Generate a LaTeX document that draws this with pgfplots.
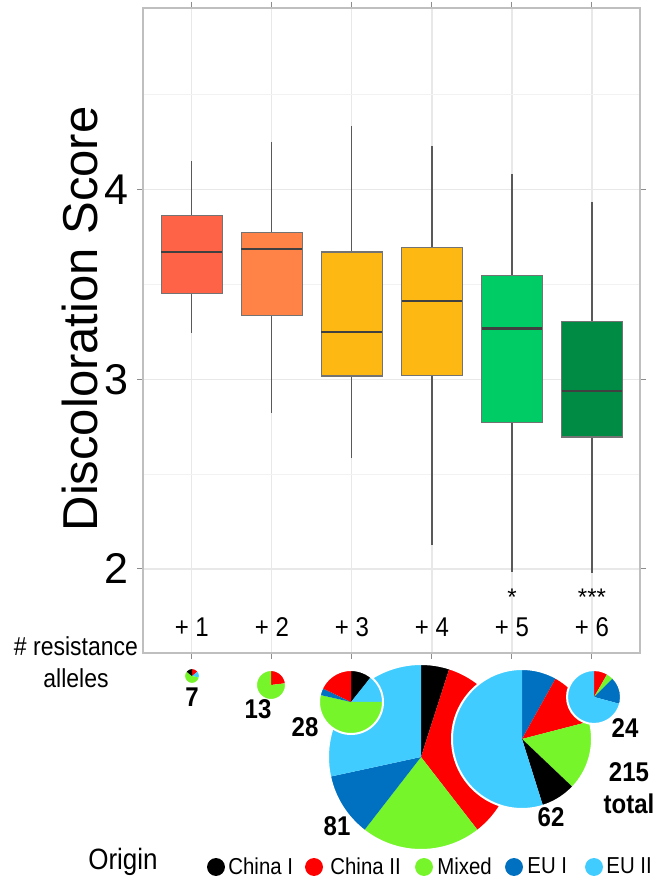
\documentclass[border=0pt]{standalone}
\usepackage{fontspec}
\setmainfont{Liberation Sans}
\usepackage{pgfplots}
\pgfplotsset{compat=1.18}
\usepgfplotslibrary{statistics}

\definecolor{bA}{HTML}{FF6347}
\definecolor{bB}{HTML}{FF8247}
\definecolor{bC}{HTML}{FDB813}
\definecolor{bE}{HTML}{00CC66}
\definecolor{bF}{HTML}{008B45}
\definecolor{chinaI}{HTML}{000000}
\definecolor{chinaII}{HTML}{FF0000}
\definecolor{mixed}{HTML}{76F52A}
\definecolor{euI}{HTML}{0070C0}
\definecolor{euII}{HTML}{40CCFF}

% pie: centre coordinate name, radius (pixels), total, list count/colour (clockwise from top)
\newcommand\drawpie[4]{%
  \gdef\piecum{0}%
  \pgfmathsetlengthmacro\pier{#2*0.5pt}%
  \foreach \n/\col in {#4}{%
    \pgfmathsetmacro\aone{90-\piecum/#3*360}%
    \pgfmathsetmacro\atwo{90-(\piecum+\n)/#3*360}%
    \fill[\col] (#1) -- ++(\aone:\pier) arc[start angle=\aone,end angle=\atwo,radius=\pier] -- cycle;
    \pgfmathsetmacro\newcum{\piecum+\n}%
    \xdef\piecum{\newcum}%
  }%
  \draw[white, line width=1pt] (#1) circle[radius=\pier];
}
\tikzset{tall/.style={yscale=1.13, transform shape}}

\begin{document}
\begin{tikzpicture}
\useasboundingbox (0,0) rectangle (327.5pt,438.5pt);
\begin{axis}[
  at={(71.5pt,112pt)}, anchor=south west,
  scale only axis, width=248.5pt, height=322.5pt,
  xmin=0.39, xmax=6.6, ymin=1.557, ymax=4.957,
  xtick={1,2,3,4,5,6}, xticklabels={},
  ytick={2,3,4}, minor ytick={2.5,3.5,4.5},
  grid=both,
  major grid style={draw=black!9, line width=0.6pt},
  minor grid style={draw=black!5, line width=0.6pt},
  axis line style={draw=black!25, line width=0.6pt},
  tick align=outside, major tick length=3pt, minor tick length=0pt,
  tick style={draw=black!45, line width=0.5pt},
  /pgf/number format/assume math mode=true,
  yticklabel style={font=\fontsize{21.5}{21.5}\selectfont, xshift=-1pt},
  ylabel={Discoloration Score},
  ylabel style={at={(axis description cs:-0.127,0.518)}, anchor=center, font=\fontsize{24.5}{24.5}\selectfont},
  boxplot/draw direction=y,
  boxplot/every median/.style={draw=black!75, line width=1.1pt},
  boxplot/every whisker/.style={draw=black!65, line width=0.6pt},
  boxplot/every box/.style={draw=black!55, line width=0.6pt},
]
\addplot[boxplot prepared={draw position=1, lower whisker=3.246, lower quartile=3.45, median=3.671, upper quartile=3.864, upper whisker=4.149, box extend=0.76, whisker extend=0}, fill=bA] coordinates {};
\addplot[boxplot prepared={draw position=2, lower whisker=2.823, lower quartile=3.335, median=3.686, upper quartile=3.773, upper whisker=4.249, box extend=0.76, whisker extend=0}, fill=bB] coordinates {};
\addplot[boxplot prepared={draw position=3, lower whisker=2.587, lower quartile=3.017, median=3.250, upper quartile=3.671, upper whisker=4.334, box extend=0.76, whisker extend=0}, fill=bC] coordinates {};
\addplot[boxplot prepared={draw position=4, lower whisker=2.125, lower quartile=3.019, median=3.413, upper quartile=3.695, upper whisker=4.231, box extend=0.76, whisker extend=0}, fill=bC] coordinates {};
\addplot[boxplot prepared={draw position=5, lower whisker=1.984, lower quartile=2.774, median=3.268, upper quartile=3.546, upper whisker=4.082, box extend=0.76, whisker extend=0}, fill=bE] coordinates {};
\addplot[boxplot prepared={draw position=6, lower whisker=1.980, lower quartile=2.696, median=2.939, upper quartile=3.304, upper whisker=3.935, box extend=0.76, whisker extend=0}, fill=bF] coordinates {};
\node[tall, anchor=base, font=\fontsize{12}{12}\selectfont] at (axis cs:1,1.642) {+ 1};
\node[tall, anchor=base, font=\fontsize{12}{12}\selectfont] at (axis cs:2,1.642) {+ 2};
\node[tall, anchor=base, font=\fontsize{12}{12}\selectfont] at (axis cs:3,1.642) {+ 3};
\node[tall, anchor=base, font=\fontsize{12}{12}\selectfont] at (axis cs:4,1.642) {+ 4};
\node[tall, anchor=base, font=\fontsize{12}{12}\selectfont] at (axis cs:5,1.642) {+ 5};
\node[tall, anchor=base, font=\fontsize{12}{12}\selectfont] at (axis cs:6,1.642) {+ 6};
\node[anchor=base, font=\fontsize{12}{12}\selectfont] at (axis cs:5,1.81) {*};
\node[anchor=base, font=\fontsize{12}{12}\selectfont] at (axis cs:6,1.81) {***};
\end{axis}

\begin{axis}[
  at={(0pt,0pt)}, anchor=south west,
  scale only axis, width=327.5pt, height=438.5pt,
  xmin=0, xmax=655, ymin=0, ymax=877,
  hide axis, clip=false,
]
% pixel coordinates: x from left, y = 877 - (pixel row)
\coordinate (p81) at (axis cs:421,120);
\coordinate (p62) at (axis cs:522,138);
\coordinate (p28) at (axis cs:351,175);
\coordinate (p24) at (axis cs:594,180);
\coordinate (p13) at (axis cs:271,192);
\coordinate (p7)  at (axis cs:192,201);
\addplot[only marks, mark=*, mark size=4.25pt, color=chinaI] coordinates {(216,10)};
\addplot[only marks, mark=*, mark size=4.25pt, color=chinaII] coordinates {(314,10)};
\addplot[only marks, mark=*, mark size=4.25pt, color=mixed] coordinates {(424,10)};
\addplot[only marks, mark=*, mark size=4.25pt, color=euI] coordinates {(514,10)};
\addplot[only marks, mark=*, mark size=4.25pt, color=euII] coordinates {(594,10)};
\node[tall, anchor=west, font=\fontsize{10.2}{10}\selectfont, inner sep=0pt] at (axis cs:228,11) {China I};
\node[tall, anchor=west, font=\fontsize{10.2}{10}\selectfont, inner sep=0pt] at (axis cs:330,11) {China II};
\node[tall, anchor=west, font=\fontsize{10.2}{10}\selectfont, inner sep=0pt] at (axis cs:437,11) {Mixed};
\node[tall, anchor=west, font=\fontsize{10.2}{10}\selectfont, inner sep=0pt] at (axis cs:527,11) {EU I};
\node[tall, anchor=west, font=\fontsize{10.2}{10}\selectfont, inner sep=0pt] at (axis cs:606,11) {EU II};
\node[tall, font=\fontsize{11.5}{14}\selectfont, align=center] at (axis cs:76,215) {\# resistance\\alleles};
\node[tall, font=\fontsize{13}{13}\selectfont] at (axis cs:123,15) {Origin};
\coordinate (l7) at (axis cs:192,180);
\coordinate (l13) at (axis cs:258,168);
\coordinate (l28) at (axis cs:305,150);
\coordinate (l81) at (axis cs:337,51);
\coordinate (l62) at (axis cs:551,60);
\coordinate (l24) at (axis cs:625,149);
\coordinate (l215) at (axis cs:629,89);
\end{axis}

\drawpie{p81}{93}{81}{4/chinaI,28/chinaII,17/mixed,9/euI,23/euII}
\drawpie{p62}{70}{62}{5/euI,8/chinaII,10/mixed,5/chinaI,34/euII}
\drawpie{p28}{32}{28}{3/chinaI,4/euII,15/mixed,1/euI,5/chinaII}
\drawpie{p24}{27}{24}{2/chinaII,1/mixed,4/euI,17/euII}
\drawpie{p13}{15}{13}{3/chinaII,10/mixed}
\drawpie{p7}{8}{7}{1/chinaII,1/euII,4/mixed,1/chinaI}

\node[tall, font=\bfseries\fontsize{12}{12}\selectfont] at (l7) {7};
\node[tall, font=\bfseries\fontsize{12}{12}\selectfont] at (l13) {13};
\node[tall, font=\bfseries\fontsize{12}{12}\selectfont] at (l28) {28};
\node[tall, font=\bfseries\fontsize{12}{12}\selectfont] at (l81) {81};
\node[tall, font=\bfseries\fontsize{12}{12}\selectfont] at (l62) {62};
\node[tall, font=\bfseries\fontsize{12}{12}\selectfont] at (l24) {24};
\node[tall, font=\bfseries\fontsize{12}{14}\selectfont, align=center] at (l215) {215\\total};
\end{tikzpicture}
\end{document}
